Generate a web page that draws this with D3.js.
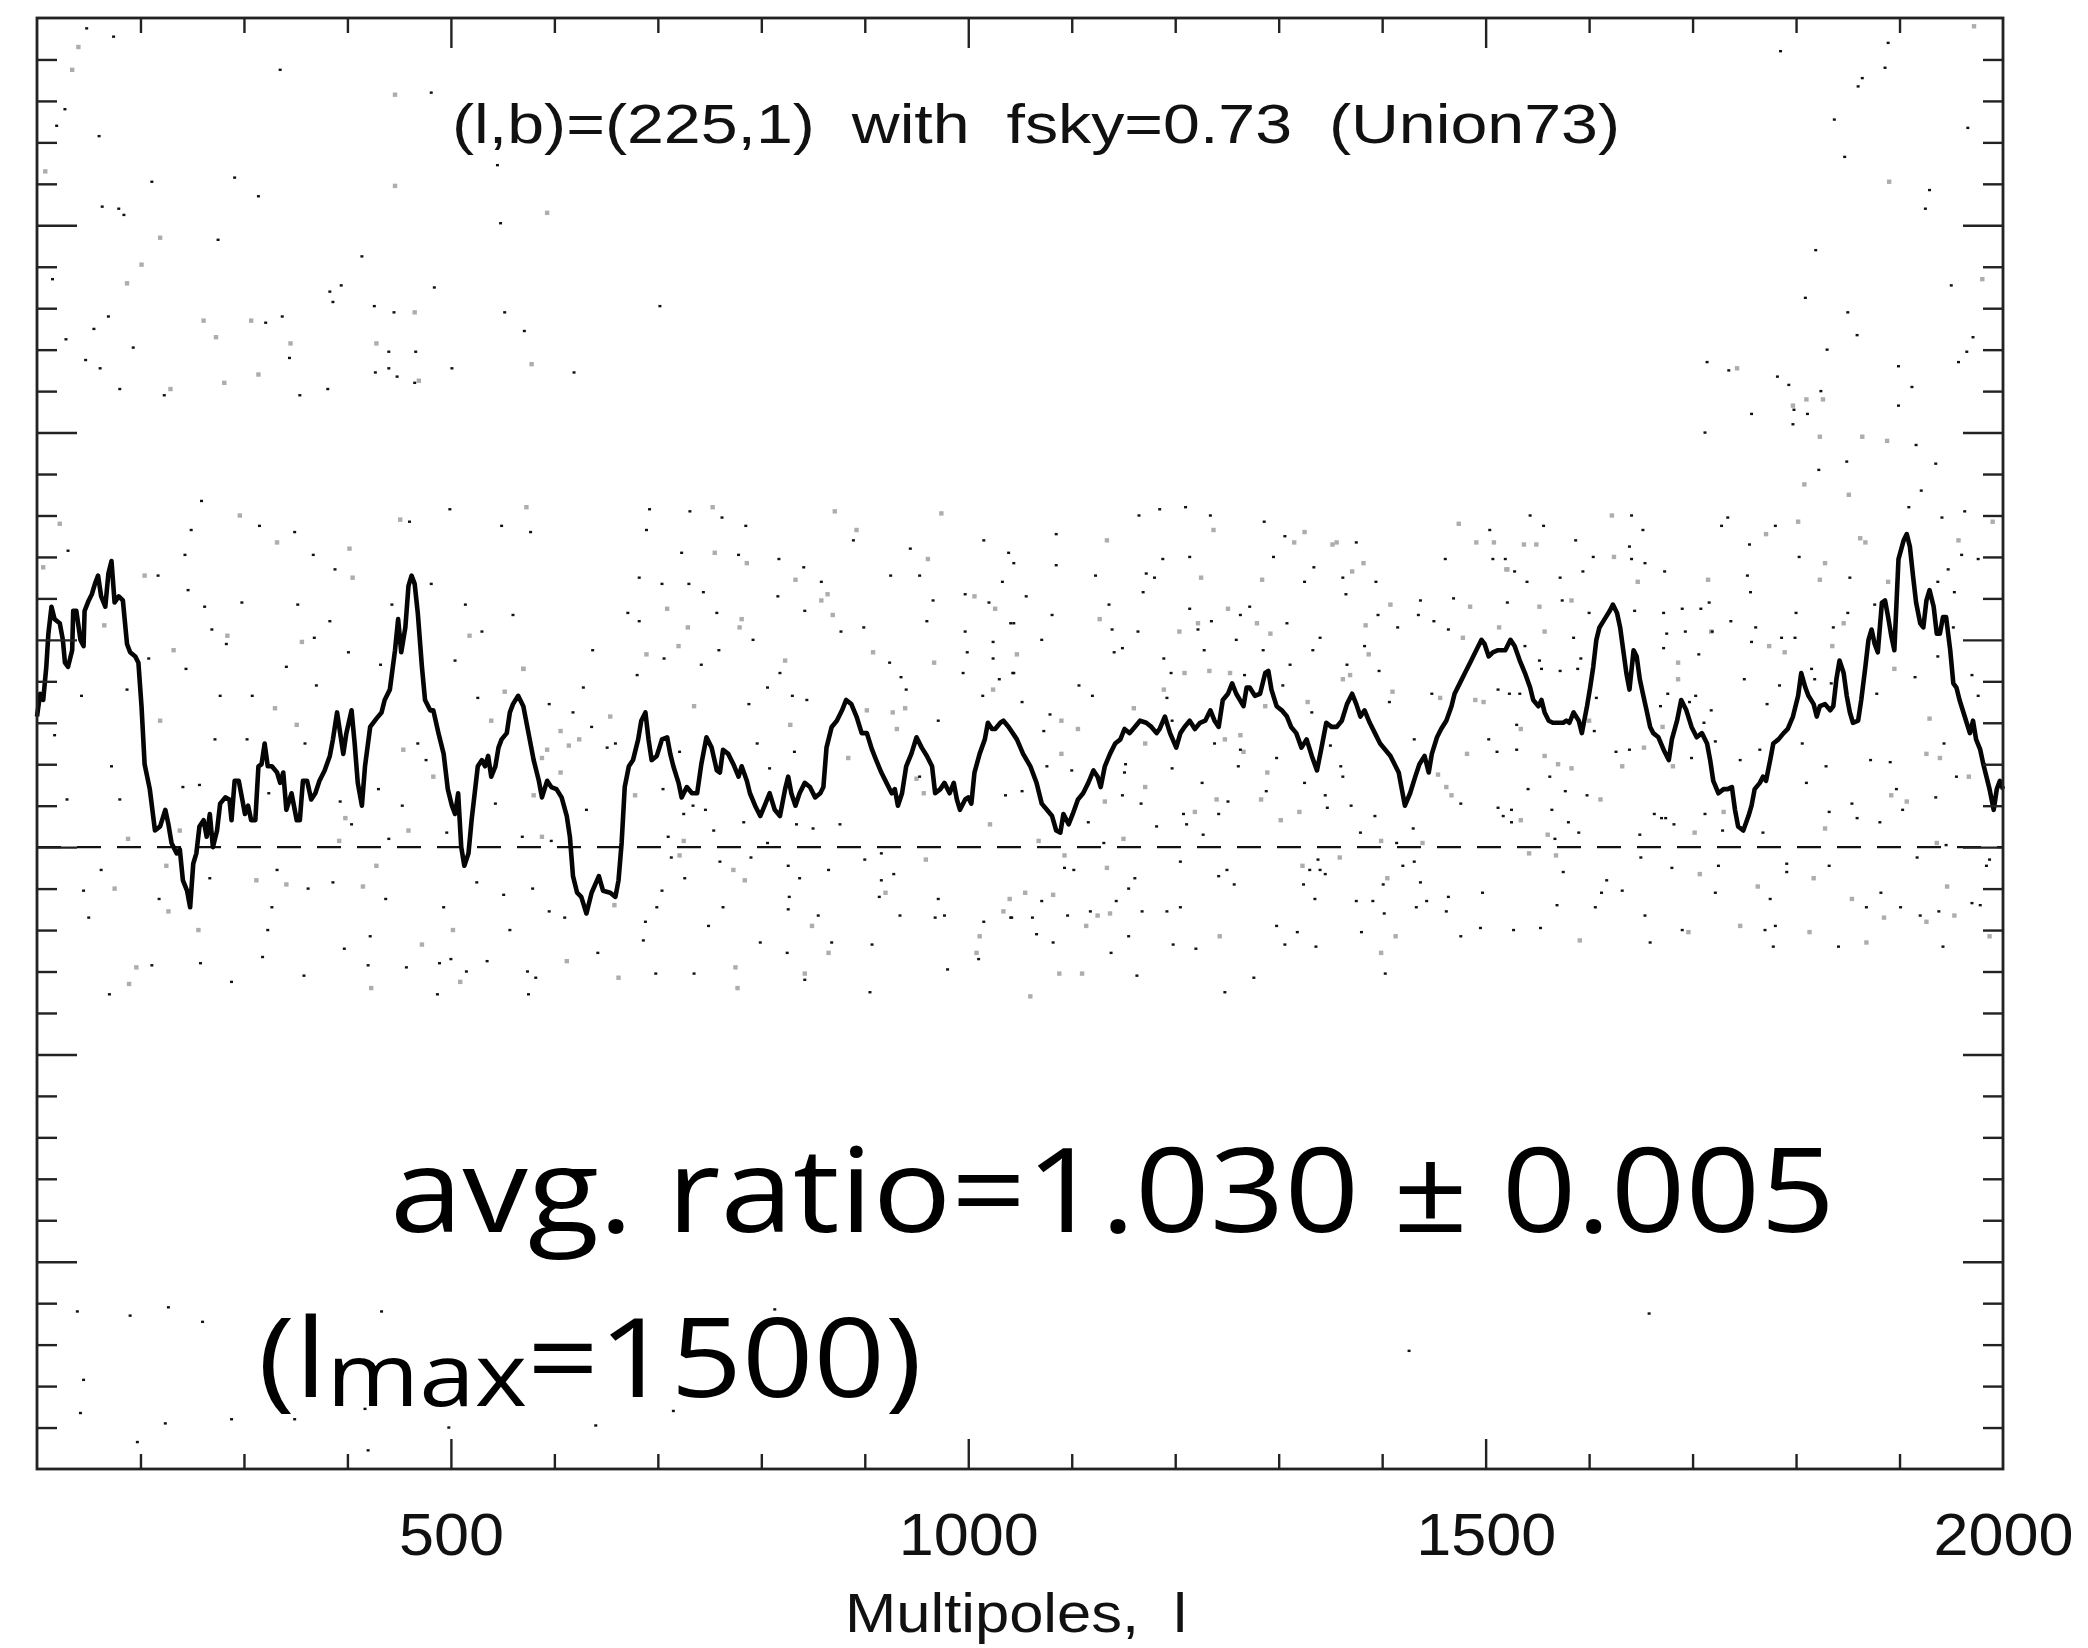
<!DOCTYPE html>
<html>
<head>
<meta charset="utf-8">
<script src="https://cdn.jsdelivr.net/npm/d3@7"></script>
<style>
html,body{margin:0;padding:0;background:#fff;}
svg{display:block;}
text{font-variant-ligatures:none;}
</style>
</head>
<body>
<svg id="svg" width="2088" height="1648"></svg>
<script>
// ---- data: [multipole l, ratio] ----
var curve=[[100,1.063],[103,1.074],[106,1.071],[109,1.087],[111,1.103],[114,1.116],[117,1.110],[122,1.108],[125,1.100],[127,1.089],[130,1.087],[134,1.095],[135,1.114],[138,1.114],[142,1.100],[145,1.097],[146,1.114],[150,1.119],[153,1.122],[156,1.127],[159,1.131],[162,1.121],[166,1.116],[169,1.132],[172,1.138],[175,1.118],[179,1.121],[183,1.119],[187,1.098],[190,1.094],[195,1.092],[198,1.089],[201,1.068],[204,1.040],[209,1.028],[214,1.008],[219,1.010],[224,1.018],[227,1.011],[230,1.002],[235,0.997],[238,0.999],[241,0.984],[245,0.979],[248,0.971],[251,0.992],[254,0.997],[257,1.010],[261,1.013],[264,1.005],[267,1.016],[270,1.000],[274,1.008],[277,1.021],[282,1.024],[286,1.023],[288,1.013],[291,1.032],[295,1.032],[298,1.024],[301,1.016],[304,1.020],[307,1.013],[311,1.013],[314,1.039],[317,1.040],[320,1.050],[323,1.039],[327,1.039],[332,1.036],[335,1.031],[338,1.036],[341,1.018],[346,1.026],[351,1.013],[354,1.013],[357,1.032],[361,1.032],[365,1.023],[369,1.026],[373,1.032],[378,1.037],[383,1.044],[386,1.052],[390,1.065],[393,1.055],[396,1.045],[399,1.055],[404,1.066],[407,1.050],[410,1.031],[414,1.020],[417,1.039],[422,1.058],[428,1.062],[433,1.065],[436,1.071],[441,1.076],[446,1.095],[449,1.110],[452,1.094],[456,1.106],[459,1.126],[462,1.131],[465,1.127],[468,1.113],[472,1.087],[475,1.071],[480,1.066],[483,1.066],[488,1.055],[493,1.045],[497,1.028],[501,1.020],[504,1.016],[507,1.026],[510,1.000],[513,0.991],[517,0.997],[520,1.013],[523,1.026],[526,1.039],[530,1.042],[533,1.039],[536,1.044],[539,1.034],[543,1.039],[546,1.048],[549,1.052],[554,1.055],[557,1.065],[560,1.069],[565,1.073],
[570,1.068],[575,1.055],[580,1.042],[585,1.032],[588,1.024],[593,1.032],[597,1.029],[602,1.028],[607,1.024],[612,1.015],[615,1.005],[618,0.986],[622,0.978],[626,0.976],[631,0.968],[636,0.978],[643,0.986],[647,0.979],[654,0.978],[659,0.976],[662,0.984],[665,1.002],[668,1.029],[672,1.039],[676,1.042],[681,1.052],[684,1.061],[688,1.065],[691,1.052],[694,1.042],[699,1.044],[704,1.052],[709,1.053],[712,1.045],[715,1.039],[720,1.031],[723,1.024],[728,1.029],[733,1.026],[738,1.026],[742,1.040],[747,1.053],[752,1.048],[757,1.037],[760,1.036],[763,1.047],[768,1.045],[773,1.040],[778,1.034],[781,1.039],[786,1.032],[789,1.026],[794,1.020],[799,1.015],[804,1.021],[808,1.026],[813,1.018],[818,1.015],[823,1.028],[826,1.034],[829,1.026],[833,1.020],[837,1.026],[842,1.031],[847,1.029],[852,1.024],[857,1.026],[860,1.029],[863,1.048],[868,1.058],[873,1.061],[878,1.066],[882,1.071],[887,1.069],[892,1.063],[897,1.055],[902,1.055],[907,1.047],[911,1.042],[916,1.036],[921,1.031],[926,1.026],[929,1.028],[932,1.020],[936,1.026],[940,1.039],[945,1.045],[950,1.053],[955,1.048],[960,1.044],[965,1.039],[968,1.026],[973,1.028],[977,1.031],[982,1.026],[986,1.031],[989,1.023],[992,1.018],[997,1.023],[1000,1.024],[1003,1.021],[1006,1.036],[1011,1.045],[1016,1.052],[1019,1.060],[1023,1.057],[1026,1.057],[1031,1.060],[1034,1.061],[1039,1.058],
[1047,1.052],[1053,1.045],[1060,1.039],[1066,1.031],[1071,1.021],[1076,1.018],[1081,1.015],[1085,1.008],[1089,1.007],[1092,1.016],[1097,1.011],[1101,1.016],[1106,1.023],[1111,1.026],[1116,1.031],[1121,1.037],[1125,1.034],[1128,1.029],[1132,1.039],[1137,1.045],[1142,1.050],[1147,1.052],[1151,1.057],[1156,1.055],[1161,1.058],[1166,1.061],[1172,1.060],[1177,1.058],[1182,1.055],[1185,1.057],[1190,1.063],[1195,1.055],[1201,1.048],[1205,1.055],[1209,1.058],[1214,1.061],[1219,1.057],[1224,1.060],[1229,1.061],[1234,1.066],[1238,1.061],[1242,1.058],[1246,1.071],[1251,1.074],[1255,1.079],[1259,1.074],[1266,1.068],[1269,1.077],[1272,1.077],[1277,1.073],[1282,1.074],[1287,1.084],[1290,1.085],[1293,1.076],[1298,1.068],[1303,1.066],[1308,1.063],[1312,1.058],[1317,1.055],[1322,1.048],[1327,1.052],[1332,1.044],[1337,1.037],[1341,1.047],[1346,1.060],[1351,1.058],[1356,1.058],[1361,1.061],[1366,1.069],[1371,1.074],[1375,1.069],[1379,1.063],[1383,1.066],[1388,1.060],[1393,1.055],[1398,1.050],[1403,1.047],[1408,1.044],[1412,1.040],[1416,1.036],[1419,1.028],[1422,1.020],[1427,1.026],[1432,1.034],[1436,1.040],[1441,1.044],[1445,1.036],[1448,1.045],[1453,1.053],[1457,1.057],[1462,1.061],[1467,1.068],[1470,1.074],[1475,1.079],[1480,1.084],[1485,1.089],[1490,1.094],[1493,1.097],[1496,1.100],[1499,1.098],[1503,1.092],[1507,1.094],[1512,1.095],
[1519,1.095],[1524,1.100],[1528,1.097],[1533,1.090],[1538,1.084],[1543,1.077],[1546,1.071],[1551,1.068],[1554,1.071],[1557,1.065],[1561,1.061],[1565,1.060],[1570,1.060],[1575,1.060],[1578,1.061],[1581,1.060],[1585,1.065],[1590,1.061],[1593,1.055],[1598,1.068],[1601,1.077],[1604,1.087],[1607,1.100],[1610,1.106],[1615,1.110],[1620,1.114],[1623,1.117],[1627,1.113],[1630,1.106],[1633,1.095],[1636,1.084],[1639,1.076],[1643,1.095],[1646,1.092],[1649,1.081],[1652,1.074],[1656,1.065],[1659,1.058],[1662,1.055],[1667,1.053],[1672,1.047],[1677,1.042],[1680,1.052],[1685,1.061],[1689,1.071],[1694,1.066],[1699,1.058],[1704,1.053],[1709,1.055],[1714,1.050],[1717,1.042],[1720,1.032],[1725,1.026],[1730,1.028],[1734,1.028],[1738,1.029],[1741,1.018],[1744,1.010],[1749,1.008],[1754,1.015],[1757,1.020],[1760,1.028],[1765,1.031],[1768,1.034],[1771,1.032],[1775,1.042],[1778,1.050],[1783,1.052],[1788,1.055],[1792,1.057],[1797,1.063],[1802,1.073],[1805,1.084],[1809,1.077],[1812,1.073],[1817,1.069],[1820,1.063],[1823,1.068],[1828,1.069],[1833,1.066],[1836,1.068],[1839,1.081],[1842,1.090],[1846,1.084],[1849,1.073],[1852,1.065],[1855,1.060],[1860,1.061],[1863,1.071],[1867,1.087],[1870,1.100],[1873,1.105],[1876,1.098],[1879,1.094],[1883,1.118],[1886,1.119],[1889,1.111],[1892,1.102],[1895,1.095],[1899,1.139],[1904,1.148],[1907,1.151],[1910,1.145],[1913,1.131],[1916,1.118],[1920,1.108],[1923,1.106],[1926,1.119],[1929,1.124],[1933,1.116],[1936,1.103],[1939,1.103],[1942,1.111],[1945,1.111],[1949,1.095],[1952,1.079],[1955,1.077],[1958,1.071],[1963,1.063],[1968,1.055],[1971,1.061],[1974,1.052],[1978,1.047],[1981,1.040],[1984,1.034],[1987,1.028],[1991,1.018],[1994,1.028],[1997,1.032],[2000,1.028]];

// per-multipole points, black and grey
var blackDots=[[259,1.167],[249,1.153],[315,1.155],[349,1.152],[460,1.157],[499,1.163],[549,1.155],[130,1.143],[243,1.141],[367,1.141],[388,1.134],[217,1.131],[246,1.124],[262,1.116],[298,1.118],[352,1.117],[443,1.117],[514,1.117],[481,1.127],[560,1.112],[383,1.109],[269,1.105],[368,1.101],[283,1.098],[530,1.104],[208,1.091],[244,1.086],[341,1.087],[432,1.088],[504,1.090],[401,1.094],[143,1.073],[187,1.076],[277,1.073],[308,1.073],[370,1.078],[526,1.072],[117,1.054],[272,1.052],[303,1.052],[359,1.050],[468,1.050],[172,1.039],[476,1.042],[241,1.029],[257,1.030],[324,1.026],[430,1.028],[129,1.023],[180,1.023],[393,1.022],[453,1.020],[543,1.021],[404,1.011],[496,1.007],[440,1.004],[569,1.005],[162,0.989],[332,0.989],[386,0.983],[267,0.985],[145,0.979],[362,0.980],[437,0.975],[525,0.983],[551,0.977],[218,0.975],[327,0.971],[493,0.971],[150,0.966],[323,0.960],[422,0.957],[557,0.960],
[692,1.163],[731,1.162],[762,1.159],[785,1.155],[689,1.153],[577,1.152],[723,1.142],[778,1.141],[817,1.139],[841,1.135],[889,1.148],[944,1.144],[1015,1.148],[1039,1.142],[682,1.130],[704,1.127],[730,1.127],[744,1.123],[858,1.128],[925,1.131],[953,1.131],[1033,1.128],[816,1.121],[842,1.114],[966,1.119],[997,1.122],[1020,1.118],[757,1.113],[671,1.113],[682,1.109],[899,1.106],[960,1.109],[1041,1.108],[792,1.100],[759,1.095],[637,1.095],[877,1.104],[997,1.104],[1024,1.099],[706,1.091],[742,1.088],[924,1.089],[999,1.094],[1024,1.091],[680,1.083],[818,1.084],[935,1.082],[995,1.084],[1043,1.084],[628,1.077],[806,1.077],[940,1.076],[1030,1.081],[595,1.069],[788,1.069],[830,1.073],[844,1.071],[1014,1.073],[636,1.058],[618,1.065],[971,1.061],[651,1.048],[659,1.050],[796,1.050],[832,1.046],[721,1.046],[808,1.038],[705,1.028],[953,1.034],[1036,1.025],[734,1.020],[746,1.018],[725,1.016],[631,1.018],[783,1.012],[834,1.011],[850,1.009],[876,1.011],[754,1.008],[597,1.003],[710,1.005],[806,1.002],[900,0.994],[916,0.997],[713,0.995],[760,0.993],[790,0.995],[826,0.991],[928,0.987],[865,0.989],[726,0.985],[837,0.985],[916,0.984],[579,0.980],[704,0.979],[827,0.976],[914,0.976],[971,0.975],[699,0.971],[763,0.971],[826,0.970],[855,0.967],[934,0.967],[968,0.966],[977,0.967],[1041,0.966],[595,0.969],[610,0.966],[688,0.964],[749,0.962],[1015,0.964],
[1185,1.163],[1210,1.164],[1234,1.160],[1165,1.160],[1286,1.157],[1085,1.151],[1306,1.150],[1375,1.147],[1504,1.153],[1044,1.137],[1085,1.136],[1188,1.139],[1214,1.140],[1295,1.140],[1334,1.135],[1461,1.139],[1507,1.139],[1123,1.131],[1172,1.132],[1180,1.130],[1362,1.130],[1394,1.128],[1325,1.128],[1056,1.121],[1169,1.123],[1365,1.122],[1437,1.119],[1469,1.120],[1136,1.117],[1214,1.115],[1272,1.116],[1081,1.112],[1263,1.112],[1396,1.112],[1435,1.112],[1044,1.108],[1235,1.109],[1308,1.108],[1450,1.109],[1139,1.105],[1164,1.104],[1222,1.105],[1415,1.106],[1464,1.105],[1071,1.100],[1259,1.100],[1340,1.101],[1149,1.096],[1228,1.095],[1285,1.095],[1333,1.095],[1383,1.097],[1141,1.094],[1189,1.091],[1311,1.088],[1366,1.088],[1044,1.084],[1196,1.084],[1267,1.083],[1397,1.085],[1107,1.078],[1120,1.073],[1192,1.072],[1304,1.078],[1407,1.070],[1448,1.074],[1052,1.070],[1079,1.064],[1073,1.056],[1197,1.061],[1332,1.065],[1431,1.052],[1512,1.076],[1238,1.050],[1263,1.047],[1503,1.052],[1511,1.046],[1350,1.049],[1076,1.039],[1152,1.040],[1197,1.038],[1261,1.039],[1298,1.043],[1360,1.039],[1100,1.037],[1151,1.036],[1362,1.034],[1226,1.031],[1325,1.031],[1052,1.027],[1149,1.025],[1288,1.027],[1345,1.025],[1167,1.021],[1251,1.022],[1370,1.020],[1476,1.021],[1347,1.019],[1208,1.016],[1242,1.016],[1393,1.015],[1512,1.019],[1116,1.012],[1182,1.010],[1211,1.011],[1430,1.009],[1227,1.006],[1379,1.007],[1131,1.002],[1414,1.002],[1205,0.993],[1338,0.994],[1093,0.990],[1102,0.989],[1250,0.989],[1330,0.989],[1340,0.989],[1420,0.991],[1431,0.993],[1161,0.985],[1242,0.986],[1345,0.987],[1437,0.983],[1257,0.982],[1324,0.982],[1155,0.980],[1401,0.982],[1497,0.978],[1335,0.975],[1375,0.974],[1391,0.974],[1443,0.974],[1464,0.976],[1071,0.974],[1143,0.974],[1205,0.971],[1168,0.969],[1192,0.969],[1402,0.968],[1433,0.971],[1462,0.969],[1042,0.966],[1062,0.966],[1096,0.967],[1118,0.969],[1495,0.961],[1066,0.958],[1155,0.957],[1298,0.962],[1318,0.959],[1380,0.959],[1476,0.957],
[1543,1.160],[1556,1.155],[1641,1.160],[1652,1.153],[1734,1.159],[1728,1.155],[1780,1.155],[1909,1.164],[1941,1.159],[1963,1.162],[1587,1.148],[1755,1.146],[1639,1.145],[1604,1.140],[1641,1.139],[1654,1.137],[1803,1.140],[1960,1.141],[1976,1.139],[1519,1.139],[1528,1.133],[1594,1.133],[1673,1.133],[1753,1.131],[1852,1.130],[1937,1.128],[1947,1.134],[1572,1.130],[1540,1.128],[1756,1.123],[1953,1.123],[1521,1.118],[1574,1.119],[1716,1.118],[1600,1.113],[1644,1.114],[1672,1.113],[1690,1.115],[1708,1.115],[1800,1.113],[1850,1.113],[1876,1.117],[1737,1.109],[1761,1.106],[1836,1.106],[1693,1.104],[1719,1.104],[1675,1.103],[1786,1.101],[1799,1.101],[1952,1.106],[1538,1.097],[1585,1.101],[1757,1.099],[1672,1.096],[1937,1.092],[1706,1.093],[1552,1.090],[1592,1.091],[1554,1.086],[1572,1.085],[1589,1.086],[1815,1.086],[1915,1.082],[1970,1.083],[1750,1.081],[1784,1.078],[1818,1.081],[1834,1.079],[1523,1.074],[1533,1.074],[1607,1.072],[1676,1.074],[1697,1.070],[1703,1.073],[1976,1.073],[1878,1.074],[1669,1.068],[1718,1.066],[1772,1.069],[1711,1.060],[1530,1.059],[1605,1.056],[1722,1.051],[1806,1.050],[1943,1.050],[1530,1.047],[1626,1.046],[1639,1.047],[1699,1.043],[1765,1.047],[1746,1.042],[1872,1.042],[1891,1.041],[1829,1.039],[1982,1.040],[1562,1.034],[1955,1.034],[1810,1.031],[1541,1.028],[1577,1.027],[1598,1.025],[1935,1.024],[1897,1.028],[1903,1.018],[1854,1.021],[1564,1.018],[1525,1.018],[1517,1.015],[1663,1.016],[1712,1.016],[1832,1.017],[1670,1.014],[1674,1.014],[1859,1.014],[1525,1.012],[1580,1.012],[1682,1.011],[1881,1.012],[1590,1.007],[1729,1.008],[1768,1.007],[1649,1.006],[1567,1.004],[1945,1.001],[1917,0.995],[1650,0.995],[1987,0.994],[1984,0.991],[1725,0.991],[1791,0.992],[1791,0.988],[1832,0.991],[1575,0.988],[1680,0.990],[1617,0.984],[1632,0.979],[1612,0.978],[1722,0.978],[1882,0.978],[1775,0.975],[1970,0.973],[1978,0.972],[1569,0.972],[1606,0.971],[1868,0.971],[1901,0.971],[1920,0.967],[1938,0.969],[1654,0.967],[1527,0.960],[1553,0.961],[1690,0.960],[1770,0.960],[1780,0.962],
[148,1.395],[174,1.391],[335,1.375],[481,1.364],[127,1.356],[119,1.348],[160,1.343],[545,1.329],[211,1.321],[291,1.323],[314,1.314],[163,1.309],[179,1.308],[184,1.305],[548,1.301],[275,1.293],[414,1.285],[115,1.274],[394,1.271],[383,1.268],[386,1.263],[484,1.270],[702,1.261],[426,1.261],[445,1.258],[552,1.258],[337,1.256],[321,1.253],[169,1.256],[155,1.250],[571,1.249],[128,1.245],[193,1.241],[440,1.239],[466,1.239],[344,1.236],[147,1.235],[161,1.231],[501,1.231],[427,1.229],[448,1.227],[440,1.231],[619,1.229],[180,1.221],[381,1.221],[465,1.224],[223,1.218],[354,1.218],
[1889,1.388],[1785,1.384],[1886,1.376],[1864,1.371],[1860,1.367],[1837,1.351],[1966,1.347],[1847,1.333],[1929,1.317],[1925,1.308],[1819,1.288],[1950,1.271],[1809,1.265],[1850,1.258],[1859,1.247],[1830,1.240],[1971,1.246],[1965,1.239],[1957,1.234],[1714,1.234],[1735,1.230],[1782,1.227],[1793,1.223],[1899,1.232],[1912,1.222],[1824,1.220],[1798,1.211],[1757,1.209],[1811,1.209],[1899,1.213],[1797,1.204],[1712,1.200],[1916,1.194],[1849,1.186],[1822,1.182],[1935,1.185],[1921,1.172],
[211,0.943],[258,0.944],[318,0.947],[358,0.938],[288,0.935],[397,0.951],[420,0.943],[457,0.942],[489,0.944],[500,0.946],[515,0.940],[535,0.945],[574,0.940],[582,0.937],[642,0.949],[686,0.955],[698,0.939],[735,0.939],[170,0.929],[487,0.929],[575,0.929],
[799,0.954],[825,0.949],[842,0.936],[868,0.954],[907,0.953],[905,0.930],[980,0.941],[1010,0.946],[1082,0.954],[1138,0.949],[1163,0.938],[1198,0.953],[1220,0.951],[1248,0.930],[1276,0.937],[1306,0.953],[1336,0.952],[1403,0.939],[1778,0.952],[1841,0.952],[1942,0.952],[1659,0.954],
[139,0.776],[190,0.774],[227,0.778],[260,0.771],[433,0.776],[813,0.777],[145,0.743],[142,0.727],[224,0.722],[288,0.724],[349,0.724],[417,0.729],[498,0.720],[640,0.721],[715,0.728],[197,0.713],[420,0.709],[1658,0.775],[1426,0.757]];

var grayDots=[[122,1.156],[296,1.160],[451,1.158],[332,1.147],[402,1.144],[106,1.135],[204,1.131],[405,1.130],[165,1.107],[284,1.102],[356,1.099],[232,1.095],[518,1.102],[570,1.086],[552,1.075],[330,1.067],[219,1.061],[351,1.059],[539,1.061],[454,1.047],[483,1.034],[398,1.014],[459,1.008],[238,1.008],[188,1.004],[392,1.003],[225,0.991],[428,0.991],[312,0.984],[341,0.982],[415,0.981],[175,0.980],[227,0.969],[256,0.960],[502,0.960],
[573,1.164],[753,1.164],[871,1.162],[974,1.161],[892,1.153],[755,1.142],[786,1.137],[961,1.139],[833,1.129],[864,1.122],[858,1.119],[1006,1.121],[1026,1.115],[709,1.115],[781,1.110],[869,1.112],[729,1.106],[779,1.106],[720,1.097],[908,1.094],[689,1.093],[823,1.090],[967,1.089],[570,1.086],[1024,1.076],[735,1.068],[939,1.067],[902,1.066],[927,1.065],[654,1.063],[828,1.059],[931,1.057],[606,1.056],[624,1.052],[614,1.049],[593,1.047],[588,1.043],[884,1.043],[606,1.036],[950,1.033],[580,1.025],[678,1.025],[957,1.026],[1021,1.011],[588,1.005],[725,1.003],[721,0.996],[959,0.994],[773,0.989],[784,0.984],[920,0.978],[1040,0.975],[1034,0.969],[658,0.972],[849,0.962],[1011,0.957],
[1237,1.153],[1325,1.152],[1134,1.148],[1315,1.147],[1352,1.146],[1356,1.147],[1474,1.156],[1491,1.147],[1508,1.147],[1382,1.137],[1371,1.133],[1520,1.134],[1225,1.130],[1284,1.129],[1408,1.117],[1485,1.116],[1251,1.115],[1127,1.110],[1222,1.108],[1279,1.108],[1384,1.107],[1513,1.106],[1204,1.104],[1292,1.103],[1478,1.101],[1047,1.093],[1387,1.093],[1209,1.084],[1233,1.085],[1253,1.084],[1362,1.081],[1369,1.083],[1189,1.076],[1410,1.075],[1456,1.072],[1498,1.070],[1490,1.071],[1160,1.067],[1328,1.070],[1287,1.068],[1090,1.061],[1106,1.057],[1248,1.052],[1263,1.054],[1171,1.050],[1266,1.046],[1482,1.045],[1090,1.045],[1289,1.036],[1454,1.035],[1462,1.029],[1467,1.025],[1171,1.029],[1132,1.022],[1240,1.023],[1283,1.023],[1219,1.017],[1320,1.017],[1302,1.013],[1150,1.004],[1068,1.003],[1399,1.003],[1439,1.002],[1359,0.995],[1134,0.990],[1323,0.991],[1405,0.985],[1093,0.996],[1055,0.978],[1082,0.977],[1137,0.968],[1125,0.967],[1114,0.962],[1243,0.957],[1413,0.957],
[1622,1.160],[1802,1.157],[1771,1.151],[1537,1.146],[1549,1.146],[1624,1.140],[1828,1.137],[1867,1.147],[1862,1.149],[1957,1.148],[1990,1.157],[1521,1.134],[1647,1.128],[1715,1.129],[1823,1.129],[1889,1.128],[1583,1.119],[1552,1.116],[1557,1.104],[1718,1.104],[1846,1.108],[1774,1.097],[1789,1.094],[1835,1.097],[1686,1.089],[1686,1.081],[1895,1.086],[1600,1.061],[1671,1.058],[1534,1.057],[1929,1.062],[1653,1.048],[1926,1.045],[1939,1.043],[1557,1.044],[1570,1.040],[1583,1.038],[1681,1.039],[1632,1.039],[1967,1.034],[1611,1.023],[1892,1.025],[1907,1.022],[1534,1.013],[1730,1.017],[1828,1.009],[1702,1.007],[1560,1.006],[1936,1.002],[1542,0.997],[1568,0.996],[1707,0.987],[1817,0.985],[1763,0.981],[1946,0.981],[1854,0.975],[1885,0.966],[1953,0.967],[1926,0.964],[1696,0.959],[1746,0.962],[1813,0.959],[1987,0.957],
[140,1.386],[134,1.375],[446,1.363],[108,1.326],[446,1.319],[593,1.306],[219,1.294],[201,1.281],[187,1.272],[261,1.254],[307,1.254],[465,1.258],[273,1.246],[345,1.243],[428,1.243],[578,1.233],[314,1.228],[281,1.224],[229,1.221],[469,1.225],
[1972,1.396],[1890,1.321],[1980,1.274],[1743,1.231],[1810,1.216],[1826,1.216],[1797,1.213],[1823,1.198],[1864,1.198],[1888,1.196],[1808,1.175],[1851,1.170],
[196,0.942],[189,0.934],[509,0.935],[612,0.945],[662,0.937],[472,0.953],[423,0.932],[865,0.949],[842,0.939],[775,0.942],[777,0.932],[1008,0.949],[1088,0.939],[1110,0.939],[1399,0.949],[1060,0.928],[1591,0.955],[1868,0.954]];

var xLabels=[500,1000,1500,2000];
var xMajorTicks=[500,1000,1500];
var yMajorTicks=[0.8,0.9,1.0,1.1,1.2,1.3];
var refLevel=1.0;
var titleText="(l,b)=(225,1)  with  fsky=0.73  (Union73)";
var xTitleText="Multipoles,  l";
var noteText="avg. ratio=1.030 \u00b1 0.005";
var lmaxText=["(l","max","=1500)"];

// ---- layout ----
var plotL=37, plotR=2003, plotT=18, plotB=1469;
var svg=d3.select("#svg");
svg.append("rect").attr("width",2088).attr("height",1648).attr("fill","#fff");

var x=d3.scaleLinear().domain([100,2000]).range([plotL,plotR]);
var y=d3.scaleLinear().domain([0.7,1.4]).range([plotB,plotT]);

var xMinorTicks=d3.range(200,2000,100).filter(d=>xMajorTicks.indexOf(d)<0);
var yMinorTicks=d3.range(36,70).map(i=>i/50).filter(d=>yMajorTicks.every(m=>Math.abs(m-d)>1e-6));

var plot=svg.append("g");
plot.append("clipPath").attr("id","clip").append("rect")
    .attr("x",plotL).attr("y",plotT).attr("width",plotR-plotL).attr("height",plotB-plotT);

// scattered points
plot.append("g").attr("clip-path","url(#clip)").selectAll("rect")
    .data(grayDots).enter().append("rect")
        .attr("x",d=>x(d[0])-2.2).attr("y",d=>y(d[1])-2.2)
        .attr("width",4.4).attr("height",4.4)
        .attr("fill","#adadad");
plot.append("g").attr("clip-path","url(#clip)").selectAll("rect")
    .data(blackDots).enter().append("rect")
        .attr("x",d=>x(d[0])-1.5).attr("y",d=>y(d[1])-1.2)
        .attr("width",3).attr("height",2.4)
        .attr("fill","#111");

// reference line at ratio = 1
plot.append("line")
    .attr("x1",plotL).attr("x2",plotR)
    .attr("y1",y(refLevel)).attr("y2",y(refLevel))
    .attr("stroke","#111").attr("stroke-width",2.4)
    .attr("stroke-dasharray","24,16");

// smoothed ratio
var line=d3.line().x(d=>x(d[0])).y(d=>y(d[1]));
plot.append("path").datum(curve)
    .attr("d",line)
    .attr("fill","none").attr("stroke","#050505")
    .attr("stroke-width",4.6).attr("stroke-linejoin","round");

// frame
svg.append("rect")
    .attr("x",plotL).attr("y",plotT).attr("width",plotR-plotL).attr("height",plotB-plotT)
    .attr("fill","none").attr("stroke","#222").attr("stroke-width",2.8);

// ticks on all four sides, pointing inward
function ticks(axis,tx,ty){
    var g=svg.append("g").attr("transform","translate("+tx+","+ty+")").call(axis);
    g.select(".domain").remove();
    g.selectAll("text").remove();
    g.selectAll("line").attr("stroke","#222").attr("stroke-width",2.4);
}
ticks(d3.axisTop(x).tickValues(xMinorTicks).tickSize(15),0,plotB);
ticks(d3.axisTop(x).tickValues(xMajorTicks).tickSize(30),0,plotB);
ticks(d3.axisBottom(x).tickValues(xMinorTicks).tickSize(15),0,plotT);
ticks(d3.axisBottom(x).tickValues(xMajorTicks).tickSize(30),0,plotT);
ticks(d3.axisRight(y).tickValues(yMinorTicks).tickSize(20),plotL,0);
ticks(d3.axisRight(y).tickValues(yMajorTicks).tickSize(40),plotL,0);
ticks(d3.axisLeft(y).tickValues(yMinorTicks).tickSize(20),plotR,0);
ticks(d3.axisLeft(y).tickValues(yMajorTicks).tickSize(40),plotR,0);

// x tick labels
var xl=svg.append("g").attr("transform","translate(0,"+plotB+")")
    .call(d3.axisBottom(x).tickValues(xLabels).tickSize(0).tickFormat(d3.format("d")));
xl.select(".domain").remove();
xl.selectAll("text")
    .attr("y",86).attr("dy",0)
    .attr("font-family","'Liberation Sans', Arial, sans-serif")
    .attr("font-size",60).attr("fill","#111")
    .attr("textLength",d=>String(d).length*35).attr("lengthAdjust","spacingAndGlyphs");

// axis title
svg.append("text")
    .attr("x",1016).attr("y",1632).attr("text-anchor","middle")
    .attr("font-family","'Liberation Sans', Arial, sans-serif")
    .attr("font-size",56).attr("fill","#111")
    .attr("textLength",342).attr("lengthAdjust","spacingAndGlyphs")
    .style("white-space","pre")
    .text(xTitleText);

// title inside the frame
svg.append("text")
    .attr("x",452).attr("y",143)
    .attr("font-family","'Liberation Sans', Arial, sans-serif")
    .attr("font-size",56).attr("fill","#111")
    .attr("textLength",1168).attr("lengthAdjust","spacingAndGlyphs")
    .style("white-space","pre")
    .text(titleText);

// large annotations
svg.append("text")
    .attr("x",390).attr("y",1232)
    .attr("font-family","'Open Sans', Lato, sans-serif")
    .attr("font-size",117).attr("fill","#000")
    .attr("textLength",1445).attr("lengthAdjust","spacingAndGlyphs")
    .text(noteText);

var lm=svg.append("text")
    .attr("x",258).attr("y",1397)
    .attr("font-family","'Open Sans', Lato, sans-serif")
    .attr("font-size",110).attr("fill","#000")
    .attr("textLength",664).attr("lengthAdjust","spacingAndGlyphs");
lm.append("tspan").text(lmaxText[0]);
lm.append("tspan").attr("font-size",88).attr("dy",9).text(lmaxText[1]);
lm.append("tspan").attr("dy",-9).text(lmaxText[2]);
</script>
</body>
</html>
